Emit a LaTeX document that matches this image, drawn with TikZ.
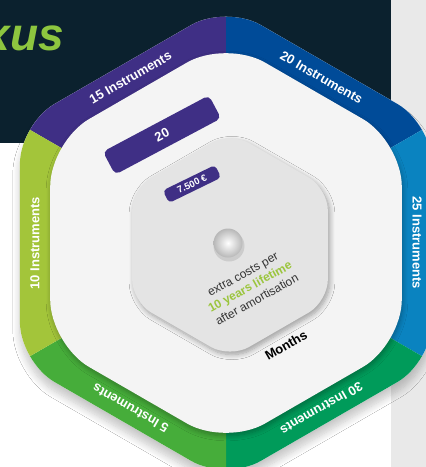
\documentclass[tikz,border=0pt]{standalone}
\usepackage{fontspec}
\setmainfont{Liberation Sans}
\usetikzlibrary{calc,shadows.blur}
\definecolor{navybg}{HTML}{0B212E}
\definecolor{stripgray}{HTML}{E9E9E9}
\definecolor{limegreen}{HTML}{8DC63F}
\definecolor{cpurple}{HTML}{3F2F85}
\definecolor{cblue}{HTML}{004B98}
\definecolor{clightblue}{HTML}{0A83C0}
\definecolor{cteal}{HTML}{009B5A}
\definecolor{cgreen}{HTML}{46AD3A}
\definecolor{clightgreen}{HTML}{A3C53A}
\definecolor{innerwhite}{HTML}{F4F4F4}
\definecolor{innergray}{HTML}{E4E4E4}
\definecolor{bodytext}{HTML}{333333}
\definecolor{highlight}{HTML}{9BC53D}
\begin{document}
\begin{tikzpicture}[x=1pt,y=1pt,
  bandlabel/.style={text=white,inner sep=0pt,font=\fontsize{13}{15}\selectfont\bfseries},
  badgebox/.style={fill=cpurple,text=white,rounded corners=5pt,inner sep=0pt,font=\bfseries},
  outerhex/.style={rounded corners=40pt},
]
\useasboundingbox (0,0) rectangle (426,-467);
\fill[white] (0,0) rectangle (426,-467);
\fill[navybg] (0,0) rectangle (391,-143);
\fill[stripgray] (391,0) rectangle (426,-467);
\begin{scope}
  \clip (0,0) rectangle (391,-143);
  \node[anchor=base east, text=limegreen, inner sep=0pt,
        font=\fontsize{46}{50}\selectfont\bfseries\itshape] (brand) at (64,-50) {xus};
\end{scope}

\coordinate (C) at (226,-243);
\foreach \a/\n in {90/T,30/UR,-30/LR,-90/B,-150/LL,150/UL}{
  \coordinate (o\n) at ($(C)+(\a:238)$);
  \coordinate (i\n) at ($(C)+(\a:203)$);
  \coordinate (w\n) at ($(C)+(\a:420)$);
}

% outer hexagon with shadow
\fill[white, outerhex, blur shadow={shadow xshift=0pt, shadow yshift=-9pt, shadow opacity=22, shadow blur radius=7pt, shadow blur steps=10}]
  (oT) -- (oUR) -- (oLR) -- (oB) -- (oLL) -- (oUL) -- cycle;
\begin{scope}
  \clip[outerhex] (oT) -- (oUR) -- (oLR) -- (oB) -- (oLL) -- (oUL) -- cycle;
  \fill[cpurple] (C) -- (wUL) -- (wT) -- cycle;
  \fill[cblue] (C) -- (wT) -- (wUR) -- cycle;
  \fill[clightblue] (C) -- (wUR) -- (wLR) -- cycle;
  \fill[cteal] (C) -- (wLR) -- (wB) -- cycle;
  \fill[cgreen] (C) -- (wB) -- (wLL) -- cycle;
  \fill[clightgreen] (C) -- (wLL) -- (wUL) -- cycle;
\end{scope}

% inner white hexagon
\fill[innerwhite, rounded corners=45pt, blur shadow={shadow xshift=1pt, shadow yshift=-3pt, shadow opacity=30, shadow blur radius=5pt, shadow blur steps=8}]
  (iT) -- (iUR) -- (iLR) -- (iB) -- (iLL) -- (iUL) -- cycle;

% band labels
\node[bandlabel, rotate=30]  (l15) at ($(C)+(120:191)$) {15 Instruments};
\node[bandlabel, rotate=-30] (l20) at ($(C)+(60:191)$) {20 Instruments};
\node[bandlabel, rotate=-90] (l25) at ($(C)+(0:191)$) {25 Instruments};
\node[bandlabel, rotate=210] (l30) at ($(C)+(-60:191)$) {30 Instruments};
\node[bandlabel, rotate=150] (l5)  at ($(C)+(-120:191)$) {5 Instruments};
\node[bandlabel, rotate=90]  (l10) at ($(C)+(180:191)$) {10 Instruments};

% 20 badge
\node[badgebox, rotate=28, minimum width=120pt, minimum height=26pt,
      font=\fontsize{13}{15}\selectfont\bfseries] (b20) at (162,-135) {20};

% inner gray hexagon
\coordinate (G) at (230,-245);
\foreach \a/\n in {90/T,30/UR,-30/LR,-90/B,-150/LL,150/UL}{
  \coordinate (g\n) at ($(G)+(\a:113)$);
}
\fill[innergray, rounded corners=22pt, blur shadow={shadow xshift=2pt, shadow yshift=-3pt, shadow opacity=35, shadow blur radius=5pt, shadow blur steps=8}]
  (gT) -- (gUR) -- (gLR) -- (gB) -- (gLL) -- (gUL) -- cycle;

% 7.500 badge
\node[badgebox, rotate=26, minimum width=58pt, minimum height=14pt, rounded corners=4pt,
      font=\fontsize{9.5}{11}\selectfont\bfseries] (b7500) at (192,-184) {7.500 €};

% ball
\coordinate (ball) at (228,-243);
\fill[black, opacity=0.10] ($(ball)+(1,-3)$) circle (15.5);
\shade[shading=radial, inner color=white, outer color=black!28] (ball) circle (14.5);

% text block
\node[rotate=29, align=center, text=bodytext, inner sep=0pt,
      font=\fontsize{12}{14.5}\selectfont] (info) at (250,-287)
  {extra costs per\\{\bfseries\color{highlight}10 years lifetime}\\after amortisation};

\node[rotate=30, inner sep=0pt, text=black, font=\fontsize{13}{15}\selectfont\bfseries] (months) at (286,-345) {Months};
\end{tikzpicture}
\end{document}
